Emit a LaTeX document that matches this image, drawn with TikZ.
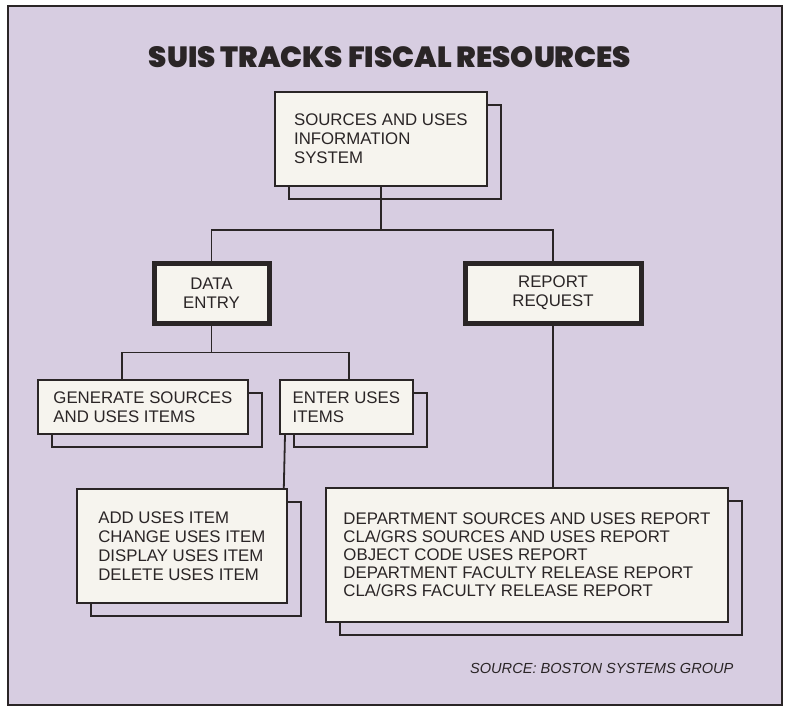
\documentclass[tikz,border=0pt]{standalone}
\usepackage{fontspec}
\setmainfont{Liberation Sans}
\newfontfamily\titlefont{Poppins}[UprightFont={* Black}]
\usetikzlibrary{shadows}

\definecolor{lilac}{HTML}{D7CDE1}
\definecolor{paper}{HTML}{F6F4EE}
\definecolor{ink}{HTML}{2A2526}

\begin{document}
\begin{tikzpicture}[
        x=1pt, y=-1pt,
        wire/.style={draw=ink, line width=1.8pt},
        itembox/.style={draw=ink, line width=1.8pt, fill=paper, inner sep=0pt,
            anchor=north west, align=left, text=ink,
            font=\fontsize{16.8}{19}\selectfont,
            general shadow={shadow xshift=14pt, shadow yshift=-13pt,
                fill=lilac, draw=ink, line width=1.8pt}},
        headbox/.style={draw=ink, line width=5pt, fill=paper, inner sep=0pt,
            anchor=north west, align=center, text=ink,
            font=\fontsize{16.8}{19}\selectfont}
    ]

    % ==========================================
    % FRAME AND TITLE
    % ==========================================
    \useasboundingbox (0,0) rectangle (786,707);
    \draw[fill=lilac, draw=ink, line width=1.4pt] (8,6) rectangle (782,705);
    \node[text=ink, font=\titlefont\fontsize{29.2}{31}\selectfont] (title) at (390,57.5) {SUIS TRACKS FISCAL RESOURCES};

    % ==========================================
    % BOXES
    % ==========================================
    \node[itembox, minimum width=212, minimum height=94] (sys) at (274,91) {SOURCES AND USES\\INFORMATION\\SYSTEM};

    \node[headbox, minimum width=115, minimum height=60] (data) at (151.5,260.5) {DATA\\ENTRY};
    \node[headbox, minimum width=176, minimum height=60] (report) at (462.5,260.5) {REPORT\\REQUEST};

    \node[itembox, minimum width=210, minimum height=54] (gen) at (37,379) {GENERATE SOURCES\\AND USES ITEMS};
    \node[itembox, minimum width=133, minimum height=54] (enter) at (279,379) {ENTER USES\\ITEMS};

    \node[itembox, minimum width=210, minimum height=114] (add) at (76,488) {ADD USES ITEM\\CHANGE USES ITEM\\DISPLAY USES ITEM\\DELETE USES ITEM};
    \node[itembox, minimum width=402, minimum height=134, font=\fontsize{16.8}{18}\selectfont] (reports) at (325,487) {DEPARTMENT SOURCES AND USES REPORT\\CLA/GRS SOURCES AND USES REPORT\\OBJECT CODE USES REPORT\\DEPARTMENT FACULTY RELEASE REPORT\\CLA/GRS FACULTY RELEASE REPORT};

    % ==========================================
    % CONNECTORS
    % ==========================================
    \draw[wire] (sys.south) -- ++(0,43) -| (data.north);
    \draw[wire] (sys.south) -- ++(0,43) -| (report.north);

    \draw[wire] (data.south) -- ++(0,27) -| ([xshift=-21pt]gen.north);
    \draw[wire] (data.south) -- ++(0,27) -| ([xshift=2.5pt]enter.north);

    \draw[wire] ([xshift=6pt]enter.south west) -- ([xshift=-4pt]add.north east);
    \draw[wire] (report.south) -- (report.south |- reports.north);

    % source line
    \node[anchor=east, text=ink, font=\itshape\fontsize{14.6}{16}\selectfont] (source) at (737,668) {SOURCE: BOSTON SYSTEMS GROUP};

\end{tikzpicture}
\end{document}
